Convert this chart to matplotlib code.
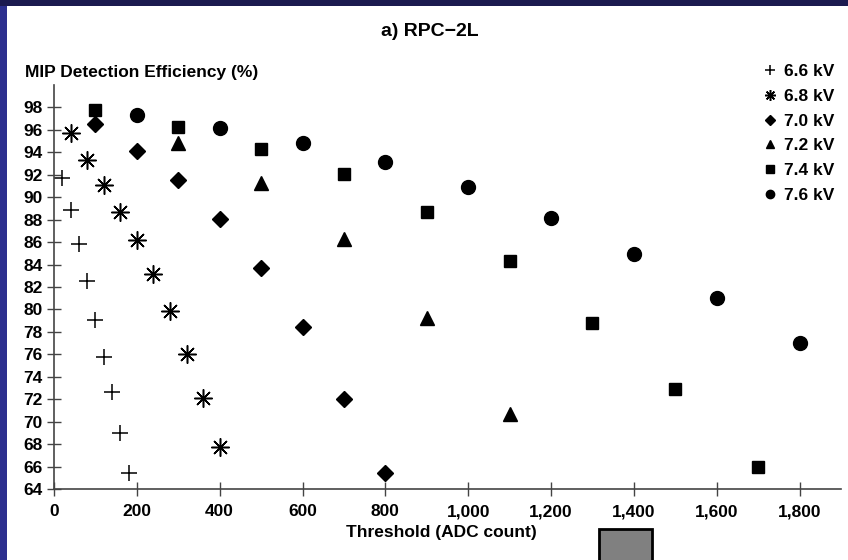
import matplotlib.pyplot as plt
from matplotlib.patches import Rectangle
from matplotlib.ticker import FuncFormatter

plt.rcParams['font.family'] = ['Liberation Sans', 'DejaVu Sans']
plt.rcParams['font.weight'] = 'bold'

# threshold (ADC count) and efficiency (%) for each HV setting
x66 = [20, 40, 60, 80, 100, 120, 140, 160, 180]
y66 = [91.7, 88.9, 85.8, 82.5, 79.1, 75.8, 72.6, 69.0, 65.45]
x68 = [40, 80, 120, 160, 200, 240, 280, 320, 360, 400]
y68 = [95.7, 93.3, 91.05, 88.7, 86.15, 83.2, 79.9, 76.05, 72.15, 67.75]
x70 = [100, 200, 300, 400, 500, 600, 700, 800]
y70 = [96.5, 94.1, 91.5, 88.1, 83.65, 78.45, 72.05, 65.45]
x72 = [300, 500, 700, 900, 1100]
y72 = [94.8, 91.3, 86.25, 79.25, 70.65]
x74 = [100, 300, 500, 700, 900, 1100, 1300, 1500, 1700]
y74 = [97.8, 96.3, 94.3, 92.1, 88.7, 84.3, 78.75, 72.95, 65.95]
x76 = [200, 400, 600, 800, 1000, 1200, 1400, 1600, 1800]
y76 = [97.35, 96.15, 94.8, 93.1, 90.9, 88.15, 84.95, 81.05, 77.0]
labels = ['6.6 kV', '6.8 kV', '7.0 kV', '7.2 kV', '7.4 kV', '7.6 kV']

W, H = 848, 560
fig = plt.figure(figsize=(W / 100, H / 100), dpi=100)
fig.patch.set_facecolor('#2c2f8e')
# slide frame: navy top band and white panel
fig.add_artist(Rectangle((0, 1 - 6 / H), 1, 6 / H, transform=fig.transFigure,
                         facecolor='#1b1a4f', edgecolor='none', zorder=0))
fig.add_artist(Rectangle((7 / W, 0), 1 - 7 / W, 1 - 6 / H, transform=fig.transFigure,
                         facecolor='white', edgecolor='none', zorder=0))

ax = fig.add_axes([54 / W, (H - 489) / H, (841 - 54) / W, (489 - 85) / H])
ax.set_facecolor('none')

ax.plot(x66, y66, ls='none', marker='+', ms=12, mew=1.1, color='black', label=labels[0])
ax.plot(x68, y68, ls='none', marker=(8, 2, 0), ms=13, mew=1.1, color='black', label=labels[1])
ax.plot(x70, y70, ls='none', marker='D', ms=8, color='black', label=labels[2])
ax.plot(x72, y72, ls='none', marker='^', ms=10, color='black', label=labels[3])
ax.plot(x74, y74, ls='none', marker='s', ms=9, color='black', label=labels[4])
ax.plot(x76, y76, ls='none', marker='o', ms=10, color='black', label=labels[5])

ax.set_xlim(0, 1900)
ax.set_ylim(64, 100)
ax.set_xticks(range(0, 1801, 200))
ax.set_yticks(range(64, 99, 2))
ax.xaxis.set_major_formatter(FuncFormatter(lambda v, p: f'{int(v):,}'))
for s in ['top', 'right']:
    ax.spines[s].set_visible(False)
for s in ['left', 'bottom']:
    ax.spines[s].set_color('#444444')
    ax.spines[s].set_linewidth(1.2)
ax.tick_params(direction='inout', length=10, width=1, color='#444444',
               labelsize=12.5, labelcolor='black')
ax.tick_params(axis='x', pad=6)
ax.tick_params(axis='y', pad=3)

fig.text(430 / W, 1 - 32 / H, 'a) RPC\u22122L', ha='center', va='center', fontsize=14)
fig.text(25 / W, 1 - 73 / H, 'MIP Detection Efficiency (%)', ha='left', va='center', fontsize=12.5)
fig.text(441 / W, 1 - 532 / H, 'Threshold (ADC count)', ha='center', va='center', fontsize=12.5)

leg = ax.legend(loc='upper left', bbox_to_anchor=(754 / W, 1 - 55 / H),
                bbox_transform=fig.transFigure, frameon=False, fontsize=12.5,
                markerscale=0.6, handlelength=0.8, handletextpad=0.4,
                labelspacing=0.56, borderpad=0)

# grey box at the bottom of the slide
fig.add_artist(Rectangle((599 / W, -0.01), 53 / W, (H - 529) / H + 0.01,
                         transform=fig.transFigure, facecolor='#808080',
                         edgecolor='black', linewidth=2))

fig.savefig('out.png', dpi=100)
